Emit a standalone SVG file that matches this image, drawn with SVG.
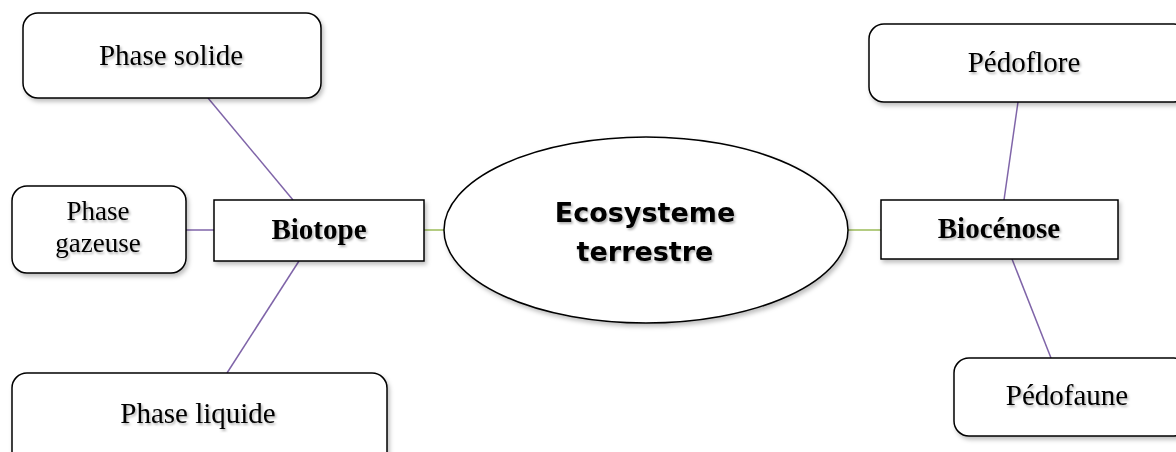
<svg xmlns="http://www.w3.org/2000/svg" width="1176" height="452" viewBox="0 0 1176 452">
<defs>
<filter id="sh" x="-10%" y="-10%" width="130%" height="140%">
<feDropShadow dx="2" dy="3" stdDeviation="2" flood-color="#000" flood-opacity="0.25"/>
</filter>
<filter id="tsh" x="-10%" y="-20%" width="130%" height="150%">
<feDropShadow dx="1.5" dy="2" stdDeviation="1.2" flood-color="#000" flood-opacity="0.3"/>
</filter>
</defs>
<style>
.box{fill:#fff;stroke:#000;stroke-width:1.5;filter:url(#sh)}
.t{font-family:"Liberation Serif","Times New Roman",serif;font-size:29px;fill:#000;text-anchor:middle;filter:url(#tsh)}
.s{font-size:27px}
.b{font-weight:bold}
.e{font-family:"Comic Sans MS","DejaVu Sans",sans-serif;font-weight:bold;font-size:27px;fill:#000;text-anchor:middle;filter:url(#tsh)}
.p{stroke:#7F64A8;stroke-width:1.5;fill:none}
.g{stroke:#9BBB59;stroke-width:1.5;fill:none}
</style>
<rect width="1176" height="452" fill="#fff"/>
<g id="connectors">
<line class="p" x1="208" y1="98" x2="293" y2="200"/>
<line class="p" x1="186" y1="230" x2="214" y2="230"/>
<line class="p" x1="299" y1="261" x2="227" y2="373"/>
<line class="g" x1="424" y1="230" x2="444" y2="230"/>
<line class="g" x1="848" y1="230" x2="881" y2="230"/>
<line class="p" x1="1018" y1="102" x2="1004" y2="200"/>
<line class="p" x1="1012" y1="259" x2="1051" y2="358"/>
</g>
<g id="phase-solide">
<rect class="box" x="23" y="13" width="298" height="85" rx="15"/>
<text class="t" x="171" y="65">Phase solide</text>
</g>
<g id="phase-gazeuse">
<rect class="box" x="12" y="186" width="174" height="87" rx="15"/>
<text class="t s" x="98" y="220">Phase</text>
<text class="t s" x="98" y="252">gazeuse</text>
</g>
<g id="biotope">
<rect class="box" x="214" y="200" width="210" height="61"/>
<text class="t b" x="319" y="239">Biotope</text>
</g>
<g id="phase-liquide">
<rect class="box" x="12" y="373" width="375" height="95" rx="15"/>
<text class="t" x="198" y="423">Phase liquide</text>
</g>
<g id="ecosysteme">
<ellipse class="box" cx="646" cy="230" rx="202" ry="93"/>
<text class="e" x="645" y="222">Ecosysteme</text>
<text class="e" x="645" y="261">terrestre</text>
</g>
<g id="biocenose">
<rect class="box" x="881" y="200" width="237" height="59"/>
<text class="t b" x="999" y="238">Biocénose</text>
</g>
<g id="pedoflore">
<rect class="box" x="869" y="24" width="320" height="78" rx="15"/>
<text class="t" x="1024" y="72">Pédoflore</text>
</g>
<g id="pedofaune">
<rect class="box" x="954" y="358" width="235" height="78" rx="15"/>
<text class="t" x="1067" y="405">Pédofaune</text>
</g>
</svg>
